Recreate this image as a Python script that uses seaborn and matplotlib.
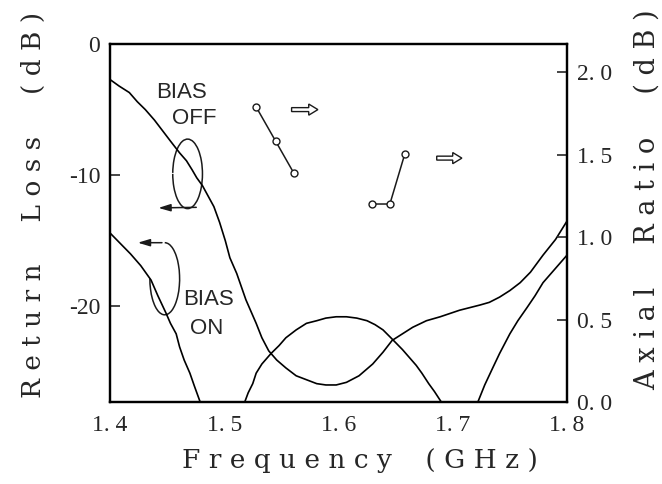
import pandas as pd
import matplotlib
matplotlib.use("Agg")
import matplotlib.pyplot as plt
from matplotlib.patches import Arc, FancyArrow
import seaborn as sns

# Return loss, BIAS OFF
freq_off = [1.400, 1.408, 1.417, 1.424, 1.431, 1.439, 1.446, 1.453, 1.461, 1.467,
            1.472, 1.476, 1.481, 1.486, 1.491, 1.496, 1.501, 1.505, 1.511, 1.515,
            1.519, 1.524, 1.528, 1.533, 1.539, 1.546, 1.554, 1.563, 1.572, 1.581,
            1.589, 1.598, 1.607, 1.618, 1.630, 1.639, 1.647, 1.656, 1.665, 1.677,
            1.689, 1.706, 1.724, 1.732, 1.741, 1.750, 1.759, 1.768, 1.779, 1.790,
            1.800]
loss_off = [-2.7, -3.2, -3.7, -4.4, -5.0, -5.8, -6.6, -7.4, -8.3, -8.9,
            -9.6, -10.2, -10.8, -11.6, -12.4, -13.6, -15.0, -16.3, -17.5, -18.5,
            -19.5, -20.5, -21.3, -22.4, -23.4, -24.1, -24.7, -25.3, -25.6, -25.9,
            -26.0, -26.0, -25.8, -25.3, -24.4, -23.5, -22.6, -22.1, -21.6, -21.1,
            -20.8, -20.3, -19.9, -19.7, -19.3, -18.8, -18.2, -17.4, -16.1, -14.9,
            -13.5]

# Return loss, BIAS ON (three visible pieces, it dips below the axis in between)
freq_on_1 = [1.400, 1.409, 1.418, 1.427, 1.436, 1.442, 1.449, 1.453, 1.458,
             1.461, 1.465, 1.470, 1.474, 1.479]
loss_on_1 = [-14.4, -15.2, -16.0, -16.9, -18.0, -19.2, -20.5, -21.3, -22.1,
             -23.1, -24.1, -25.1, -26.1, -27.3]
freq_on_2 = [1.518, 1.521, 1.525, 1.528, 1.533, 1.541, 1.548, 1.554, 1.563,
             1.572, 1.581, 1.589, 1.598, 1.607, 1.616, 1.625, 1.632, 1.639,
             1.647, 1.656, 1.662, 1.668, 1.673, 1.679, 1.684, 1.690]
loss_on_2 = [-27.3, -26.6, -25.9, -25.1, -24.4, -23.6, -23.0, -22.4, -21.8,
             -21.3, -21.1, -20.9, -20.8, -20.8, -20.9, -21.1, -21.4, -21.8,
             -22.5, -23.3, -23.9, -24.5, -25.1, -25.9, -26.5, -27.3]
freq_on_3 = [1.722, 1.728, 1.735, 1.741, 1.750, 1.757, 1.765, 1.772, 1.779,
             1.785, 1.791, 1.800]
loss_on_3 = [-27.3, -26.0, -24.7, -23.6, -22.1, -21.1, -20.1, -19.2, -18.2,
             -17.6, -17.0, -16.1]

x_ticks = [1.4, 1.5, 1.6, 1.7, 1.8]
x_labels = ["1. 4", "1. 5", "1. 6", "1. 7", "1. 8"]
rl_ticks = [0, -10, -20]
rl_labels = ["0", "-10", "-20"]
ar_ticks = [0.0, 0.5, 1.0, 1.5, 2.0]
ar_labels = ["0. 0", "0. 5", "1. 0", "1. 5", "2. 0"]

# stub sketches (switch states) drawn in the plot
stub1_f = [1.528, 1.545, 1.561]
stub1_db = [-4.8, -7.4, -9.85]
stub2_f = [1.629, 1.645, 1.658]
stub2_db = [-12.2, -12.2, -8.4]

sns.set_theme(style="white")
plt.rcParams["font.family"] = ["Liberation Serif", "DejaVu Serif"]

pieces = [
    ("off", freq_off, loss_off),
    ("on1", freq_on_1, loss_on_1),
    ("on2", freq_on_2, loss_on_2),
    ("on3", freq_on_3, loss_on_3),
]
df = pd.concat(
    [pd.DataFrame({"freq": f, "loss": l, "seg": s}) for s, f, l in pieces],
    ignore_index=True,
)

fig, ax = plt.subplots(figsize=(6.62, 4.84), dpi=100)
fig.subplots_adjust(left=0.166, right=0.8565, top=0.909, bottom=0.1694)

sns.lineplot(data=df, x="freq", y="loss", units="seg", estimator=None,
             color="black", lw=1.2, legend=False, ax=ax)

ax.set_xlim(1.4, 1.8)
ax.set_ylim(-27.3, 0)
ax.set_xticks(x_ticks)
ax.set_xticklabels(x_labels)
ax.set_yticks(rl_ticks)
ax.set_yticklabels(rl_labels)
ax.tick_params(axis="x", direction="in", length=6, width=1.2, labelsize=17, pad=9)
ax.tick_params(axis="y", direction="in", length=7, width=1.2, labelsize=17, pad=7)
for sp in ax.spines.values():
    sp.set_color("black")
    sp.set_linewidth(1.6)

lab_font = dict(fontsize=19, family="DejaVu Serif")
ax.set_xlabel("F r e q u e n c y    ( G H z )", **lab_font)
ax.xaxis.set_label_coords(0.547, -0.128)
ax.set_ylabel("R e t u r n     L o s s     ( d B )", **lab_font)
ax.yaxis.set_label_coords(-0.14, 0.55)

ax2 = ax.twinx()
ax2.set_ylim(0, 2.17)
ax2.set_yticks(ar_ticks)
ax2.set_yticklabels(ar_labels)
ax2.tick_params(axis="y", direction="in", length=7, width=1.2, labelsize=17, pad=7)
ax2.set_ylabel("A x i a l     R a t i o     ( d B )", fontsize=19.5,
               family="DejaVu Serif", rotation=90)
ax2.yaxis.set_label_coords(1.146, 0.565)
for sp in ax2.spines.values():
    sp.set_color("black")
    sp.set_linewidth(1.6)

# BIAS OFF / BIAS ON labels with curl + arrow to the left axis
narrow = ["Liberation Sans Narrow", "Liberation Sans"]
ax.text(1.463, -3.7, "BIAS", ha="center", va="center", fontsize=16, family=narrow)
ax.text(1.474, -5.7, "OFF", ha="center", va="center", fontsize=16, family=narrow)
ax.text(1.486, -19.5, "BIAS", ha="center", va="center", fontsize=16, family=narrow)
ax.text(1.485, -21.7, "ON", ha="center", va="center", fontsize=16, family=narrow)

ax.add_patch(Arc((1.468, -9.9), 0.026, 5.3, theta1=180, theta2=100, color="k", lw=1.1))
ax.annotate("", xy=(1.440, -12.5), xytext=(1.478, -12.45),
            arrowprops=dict(arrowstyle="-|>,head_length=0.6,head_width=0.18",
                            color="k", lw=1.1))
ax.add_patch(Arc((1.448, -17.9), 0.026, 5.5, theta1=140, theta2=90, color="k", lw=1.1))
ax.annotate("", xy=(1.422, -15.15), xytext=(1.448, -15.15),
            arrowprops=dict(arrowstyle="-|>,head_length=0.6,head_width=0.18",
                            color="k", lw=1.1))

# stub sketches and hollow arrows
ax.plot(stub1_f, stub1_db, "-o", color="k", mfc="white", ms=5, lw=1.1)
ax.plot(stub2_f, stub2_db, "-o", color="k", mfc="white", ms=5, lw=1.1)
for x0, y0, dx in [(1.559, -5.0, 0.023), (1.686, -8.7, 0.022)]:
    ax.add_patch(FancyArrow(x0, y0, dx, 0, width=0.3, head_width=0.85,
                            head_length=0.008, length_includes_head=True,
                            fc="white", ec="k", lw=1.0))

fig.savefig("out.png", dpi=100)
